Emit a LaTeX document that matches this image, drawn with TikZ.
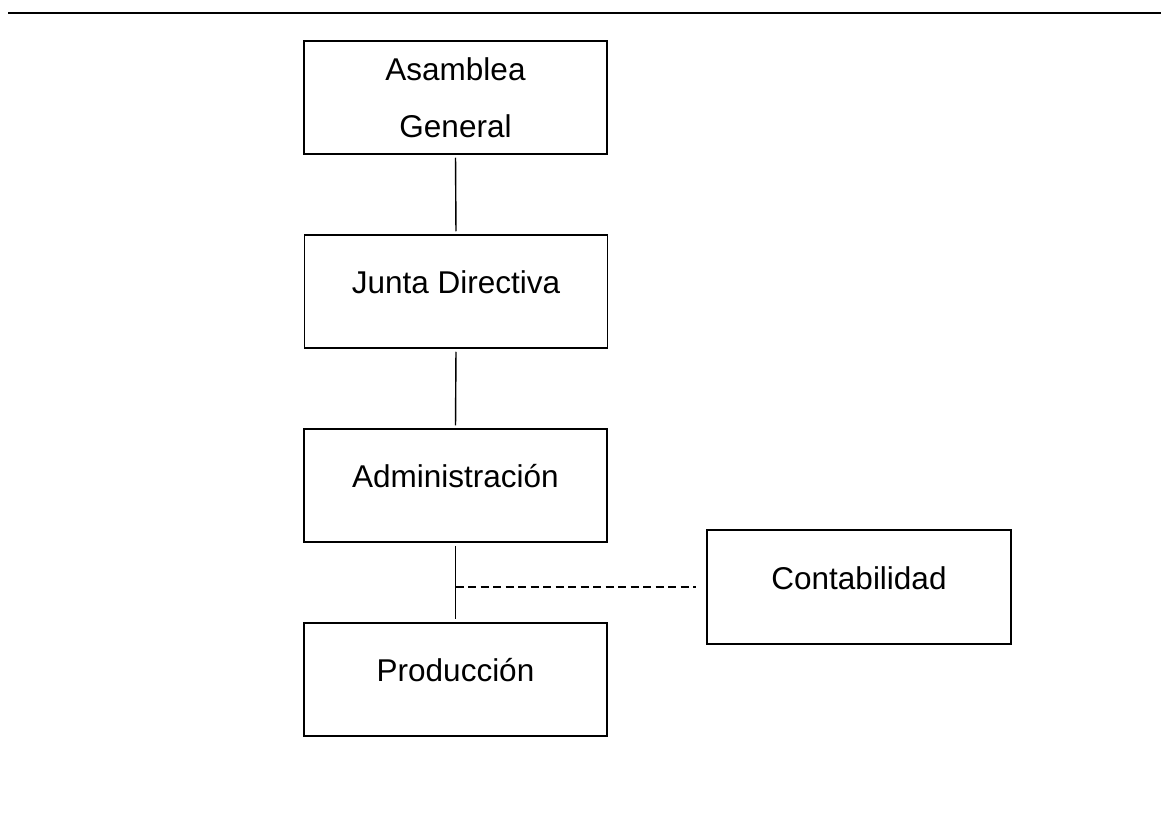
\documentclass[tikz,border=0pt]{standalone}
\usepackage{fontspec}
\setmainfont{Liberation Sans}
\begin{document}
\begin{tikzpicture}[x=1pt,y=-1pt,
  orgbox/.style={draw, line width=1.5pt, minimum width=303pt, minimum height=113pt,
    inner sep=0pt, font=\fontsize{31.5pt}{38pt}\selectfont, text height=22pt, text depth=18pt},
  twoline/.style={draw, line width=1.5pt, minimum width=303pt, minimum height=113pt,
    inner sep=0pt, font=\fontsize{31.5pt}{38pt}\selectfont, align=center},
  link/.style={line width=1.4pt, shorten <=3pt, shorten >=3pt},
  dlink/.style={line width=1.4pt, dash pattern=on 8pt off 4.5pt, shorten >=10pt}]
\useasboundingbox (0,0) rectangle (1161,837);
\coordinate (tl) at (8,13);
\coordinate (tr) at (1161,13);
\draw[line width=1.4pt] (tl) -- (tr);
\node[twoline] (ag) at (455.5,97.5) {\raisebox{-5pt}{\parbox{300pt}{\centering Asamblea\\[19pt] General}}};
\node[orgbox] (jd) at (456,291.5) {Junta Directiva};
\node[orgbox] (ad) at (455.5,485.5) {Administración};
\node[orgbox] (pr) at (455.5,679.5) {Producción};
\node[orgbox, minimum width=304pt, minimum height=114pt] (co) at (859,587) {Contabilidad};
\draw[link] (ag.south) -- (jd.north);
\draw[link] (jd.south) -- (ad.north);
\draw[link] (ad.south) -- (pr.north);
\coordinate (jn) at (ad.south |- co.west);
\draw[dlink] (jn) -- (co.west);
\end{tikzpicture}
\end{document}
